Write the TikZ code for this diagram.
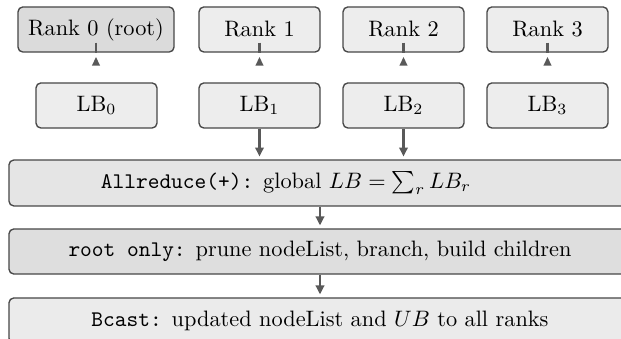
\documentclass[tikz,border=0pt]{standalone}
\usetikzlibrary{arrows.meta,calc}
\tikzset{
  box/.style={draw=black!72, line width=0.6pt, rounded corners=2.2pt,
    minimum height=20.2pt, inner sep=0pt},
  smallbox/.style={box, fill=black!7, minimum width=54.2pt},
  widebox/.style={box, minimum width=278.7pt},
  conn/.style={draw=black!65, line width=0.9pt},
  tipped/.style={conn, -{Triangle[length=4pt,width=3.8pt]}, shorten >=1.3pt},
  uptip/.style={fill=black!65}
}
\begin{document}
\begin{tikzpicture}[x=0.448pt, y=-0.448pt]
\useasboundingbox (0,0) rectangle (621,339);
\clip (0,0) rectangle (621,339);

% ranks
\node[smallbox, fill=black!14, minimum width=69.9pt] (r0) at (96,29.5) {Rank 0 (root)};
\node[smallbox] (r1) at (259.5,29.5) {Rank 1};
\node[smallbox] (r2) at (403.5,29.5) {Rank 2};
\node[smallbox] (r3) at (547.5,29.5) {Rank 3};

% local bounds
\node[smallbox] (lb0) at (96.5,105.5) {LB$_0$};
\node[smallbox] (lb1) at (259.5,105.5) {LB$_1$};
\node[smallbox] (lb2) at (403.5,105.5) {LB$_2$};
\node[smallbox] (lb3) at (547.5,105.5) {LB$_3$};

% collective steps
\node[widebox, fill=black!10, minimum height=20.6pt] (red) at (320,183) {};
\node (redtxt) at (286,183) {\texttt{Allreduce(+):} global $LB=\sum_r LB_r$};
\node[widebox, fill=black!13] (root) at (320,251.5)
  {\texttt{root only:} prune nodeList, branch, build children};
\node[widebox, fill=black!8] (bc) at (320,320.5)
  {\texttt{Bcast:} updated nodeList and $UB$ to all ranks};

% rank stubs with their upward tips
\foreach \r in {r0,r1,r2,r3}{
  \draw[conn] ($(\r.south)+(0,-10)$) -- (\r.south);
  \fill[uptip] ($(\r.south)+(0,4.5)$) -- ++(-4.2,8.5) -- ++(8.4,0) -- cycle;
}

% flow arrows
\draw[tipped] (lb1.south) -- (lb1.south |- red.north);
\draw[tipped] (lb2.south) -- (lb2.south |- red.north);
\draw[tipped] (red.south) -- (root.north);
\draw[tipped] (root.south) -- (bc.north);
\end{tikzpicture}
\end{document}
